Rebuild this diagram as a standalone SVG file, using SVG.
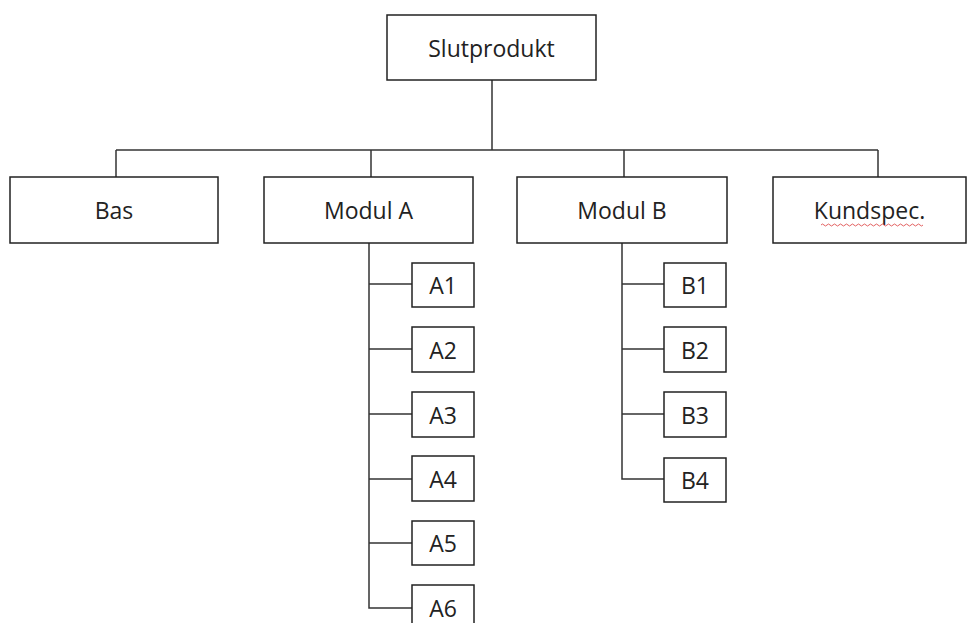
<svg xmlns="http://www.w3.org/2000/svg" width="969" height="623" viewBox="0 0 969 623">
<style>
rect{fill:#fff;stroke:#222;stroke-width:1.5}
text{font-family:"Open Sans","Liberation Sans",sans-serif;font-size:23px;fill:#222;text-anchor:middle}
.c line, .c path{stroke:#333;stroke-width:1.5;fill:none}
</style>
<rect x="0" y="0" width="969" height="623" style="fill:#fff;stroke:none"/>
<g class="c" id="connectors">
<line x1="492" y1="80" x2="492" y2="150"/>
<line x1="116" y1="150" x2="878" y2="150"/>
<line x1="116" y1="150" x2="116" y2="177"/>
<line x1="371" y1="150" x2="371" y2="177"/>
<line x1="624" y1="150" x2="624" y2="177"/>
<line x1="878" y1="150" x2="878" y2="177"/>
<path d="M369 243 V608 H412"/>
<line x1="369" y1="284" x2="412" y2="284"/>
<line x1="369" y1="349" x2="412" y2="349"/>
<line x1="369" y1="414" x2="412" y2="414"/>
<line x1="369" y1="479" x2="412" y2="479"/>
<line x1="369" y1="543" x2="412" y2="543"/>
<path d="M622 243 V479 H664"/>
<line x1="622" y1="284" x2="664" y2="284"/>
<line x1="622" y1="349" x2="664" y2="349"/>
<line x1="622" y1="414" x2="664" y2="414"/>
</g>
<g id="slutprodukt"><rect x="387" y="15" width="209" height="65"/><text x="491.5" y="57">Slutprodukt</text></g>
<g id="bas"><rect x="10" y="177" width="208" height="66"/><text x="114" y="219">Bas</text></g>
<g id="modulA"><rect x="264" y="177" width="209" height="66"/><text x="368.5" y="219">Modul A</text></g>
<g id="modulB"><rect x="517" y="177" width="210" height="66"/><text x="622" y="219">Modul B</text></g>
<g id="kundspec"><rect x="773" y="177" width="193" height="66"/><text x="869.5" y="219">Kundspec.</text>
<path d="M821 225 q1.5 -2 3 0 t3 0 t3 0 t3 0 t3 0 t3 0 t3 0 t3 0 t3 0 t3 0 t3 0 t3 0 t3 0 t3 0 t3 0 t3 0 t3 0 t3 0 t3 0 t3 0 t3 0 t3 0 t3 0 t3 0 t3 0 t3 0 t3 0 t3 0 t3 0 t3 0 t3 0 t3 0 t3 0 t3 0" fill="none" stroke="#e05050" stroke-width="0.9"/></g>
<g id="A1"><rect x="412" y="263" width="62" height="44"/><text x="443" y="294">A1</text></g>
<g id="A2"><rect x="412" y="327" width="62" height="45"/><text x="443" y="359">A2</text></g>
<g id="A3"><rect x="412" y="392" width="62" height="45"/><text x="443" y="424">A3</text></g>
<g id="A4"><rect x="412" y="456" width="62" height="45"/><text x="443" y="488">A4</text></g>
<g id="A5"><rect x="412" y="521" width="62" height="44"/><text x="443" y="552">A5</text></g>
<g id="A6"><rect x="412" y="585" width="62" height="45"/><text x="443" y="617">A6</text></g>
<g id="B1"><rect x="664" y="263" width="62" height="44"/><text x="695" y="294">B1</text></g>
<g id="B2"><rect x="664" y="327" width="62" height="45"/><text x="695" y="359">B2</text></g>
<g id="B3"><rect x="664" y="392" width="62" height="45"/><text x="695" y="424">B3</text></g>
<g id="B4"><rect x="664" y="458" width="62" height="44"/><text x="695" y="489">B4</text></g>
</svg>
